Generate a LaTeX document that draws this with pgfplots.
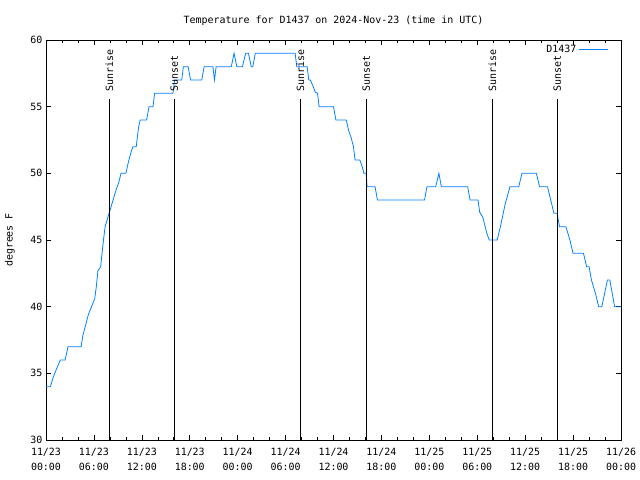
\documentclass[border=0pt]{standalone}
\usepackage{fontspec}
\setmainfont{DejaVu Sans Mono}
\usepackage{pgfplots}
\pgfplotsset{compat=1.18}
\definecolor{dblue}{RGB}{0,128,255}
\newcommand{\gf}{\fontsize{10}{15}\selectfont}
\begin{document}
\begin{tikzpicture}
\useasboundingbox (0,0) rectangle (640bp,480bp);
\begin{axis}[
  at={(46bp,40bp)}, anchor=south west,
  width=575bp, height=400bp, scale only axis,
  xmin=0, xmax=72, ymin=30, ymax=60,
  xtick={0,6,...,72},
  xticklabels={{11/23\\00:00},{11/23\\06:00},{11/23\\12:00},{11/23\\18:00},{11/24\\00:00},{11/24\\06:00},{11/24\\12:00},{11/24\\18:00},{11/25\\00:00},{11/25\\06:00},{11/25\\12:00},{11/25\\18:00},{11/26\\00:00}},
  minor x tick num=2,
  ytick={30,35,...,60},
  tick align=inside,
  major tick length=5bp, minor tick length=3bp,
  tick style={black, line width=0.6pt},
  axis line style={black, line width=0.8pt},
  xticklabel style={align=center, font=\gf, yshift=-5bp},
  yticklabel style={font=\gf},
  /pgf/number format/assume math mode=true,
  ylabel={degrees F},
  ylabel style={font=\gf, at={(axis description cs:-0.0626,0.5)}, anchor=center},
  title={Temperature for D1437 on 2024-Nov-23 (time in UTC)},
  title style={font=\gf, at={(0.5,1)}, anchor=base, yshift=11bp},
  legend plot pos=right,
  legend style={draw=none, fill=none, font=\gf, at={(0.983,0.997)}, anchor=north east},
  legend image code/.code={\draw[#1] (0bp,0bp) -- (29bp,0bp);},
]
\addplot[dblue, line width=0.8pt] coordinates {
(0,34) (0.55,34) (0.9,34.7) (1.3,35.3) (1.8,36) (2.4,36) (2.75,37) (4.4,37)
(4.6,37.8) (5.0,38.7) (5.3,39.4) (5.9,40.3) (6.1,40.6) (6.3,41.5) (6.5,42.7)
(6.85,43) (7.05,44.2) (7.2,45) (7.4,46) (7.9,47) (8.4,48) (8.8,48.8) (9.1,49.3)
(9.4,50) (10.0,50) (10.3,50.8) (10.7,51.7) (10.9,52) (11.3,52) (11.6,53.5)
(11.8,54) (12.6,54) (12.9,55) (13.4,55) (13.6,56) (15.9,56) (16.1,57) (17.0,57)
(17.2,58) (17.8,58) (18.1,57) (19.5,57) (19.8,58) (20.9,58) (21.1,57) (21.3,58)
(23.2,58) (23.55,59) (23.9,58) (24.6,58) (25.0,59) (25.35,59) (25.7,58) (25.9,58)
(26.2,59) (31.2,59) (31.4,58) (32.7,58) (32.9,57) (33.1,57) (33.4,56.6) (33.7,56.1)
(34.0,56) (34.2,55) (36.0,55) (36.3,54) (37.6,54) (37.9,53.2) (38.2,52.7) (38.5,52)
(38.7,51) (39.3,51) (39.6,50.5) (39.8,50) (40.1,50) (40.2,49) (41.2,49) (41.5,48)
(47.4,48) (47.7,49) (48.8,49) (49.2,50) (49.5,49) (52.8,49) (53.1,48) (54.1,48)
(54.3,47.1) (54.7,46.7) (55.2,45.5) (55.5,45) (56.5,45) (56.9,46) (57.5,47.7)
(58.1,49) (59.2,49) (59.6,50) (61.4,50) (61.8,49) (62.8,49) (63.2,48) (63.6,47)
(64.0,47) (64.3,46) (65.1,46) (65.6,45) (66.0,44) (67.3,44) (67.7,43) (68.0,43)
(68.3,42) (68.8,41) (69.2,40) (69.6,40) (70.3,42) (70.6,42) (71.2,40) (72,40)
};
\addlegendentry{D1437}
\addplot[black, line width=0.8pt, forget plot] coordinates {(7.93,30) (7.93,55.55)};
\addplot[black, line width=0.8pt, forget plot] coordinates {(16.07,30) (16.07,55.55)};
\addplot[black, line width=0.8pt, forget plot] coordinates {(31.85,30) (31.85,55.55)};
\addplot[black, line width=0.8pt, forget plot] coordinates {(40.1,30) (40.1,55.55)};
\addplot[black, line width=0.8pt, forget plot] coordinates {(55.9,30) (55.9,55.55)};
\addplot[black, line width=0.8pt, forget plot] coordinates {(64.03,30) (64.03,55.55)};
\node[rotate=90, anchor=west, font=\gf, inner sep=0pt] at (axis cs:7.93,56.1) {Sunrise};
\node[rotate=90, anchor=west, font=\gf, inner sep=0pt] at (axis cs:16.07,56.1) {Sunset};
\node[rotate=90, anchor=west, font=\gf, inner sep=0pt] at (axis cs:31.85,56.1) {Sunrise};
\node[rotate=90, anchor=west, font=\gf, inner sep=0pt] at (axis cs:40.1,56.1) {Sunset};
\node[rotate=90, anchor=west, font=\gf, inner sep=0pt] at (axis cs:55.9,56.1) {Sunrise};
\node[rotate=90, anchor=west, font=\gf, inner sep=0pt] at (axis cs:64.03,56.1) {Sunset};
\end{axis}
\end{tikzpicture}
\end{document}
